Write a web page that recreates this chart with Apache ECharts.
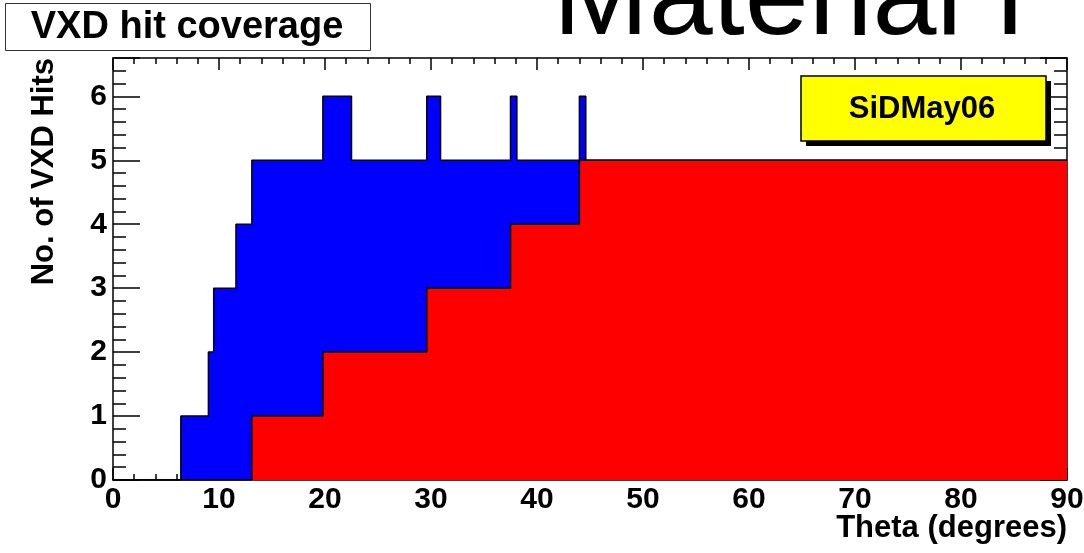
<!DOCTYPE html>
<html>
<head>
<meta charset="UTF-8">
<title>VXD hit coverage</title>
<script src="https://cdn.jsdelivr.net/npm/echarts@6/dist/echarts.min.js"></script>
<style>
  html, body { margin: 0; padding: 0; background: #fff; }
  #main { width: 1084px; height: 553px; }
</style>
</head>
<body>
<div id="main"></div>
<script type="text/javascript">
// bin edges (theta, degrees) and hit counts
var blueEdges = [0, 6.4, 9.0, 9.5, 11.6, 13.1, 19.8, 22.5, 29.6, 30.9, 37.5, 38.1, 44.0, 44.6, 90];
var blueHits  = [0, 1,   2,   3,   4,    5,    6,    5,    6,    5,    6,    5,    6,    5,    5];
var redEdges  = [0, 13.1, 19.8, 29.6, 37.5, 44.0, 90];
var redHits   = [0, 1,    2,    3,    4,    5,    5];
var xTicks = [0, 10, 20, 30, 40, 50, 60, 70, 80, 90];
var yTicks = [0, 1, 2, 3, 4, 5, 6];

var FONT = '"Liberation Sans", Arial, sans-serif';
var myChart = echarts.init(document.getElementById('main'));

function pairs(xs, ys) {
    var out = [];
    for (var i = 0; i < xs.length; i++) out.push([xs[i], ys[i]]);
    return out;
}

var lineBlack = { color: '#000', width: 1.5 };

function xAx(pos, labels) {
    return {
        type: 'value', position: pos, min: xTicks[0], max: xTicks[xTicks.length - 1],
        interval: xTicks[1] - xTicks[0],
        axisLine: { show: true, onZero: false, lineStyle: lineBlack },
        axisTick: { show: true, inside: true, length: 12, lineStyle: lineBlack },
        minorTick: { show: true, splitNumber: 5, length: 6, lineStyle: lineBlack },
        splitLine: { show: false },
        axisLabel: {
            show: labels, margin: 5, color: '#000', fontFamily: FONT,
            fontWeight: 'bold', fontSize: 30
        }
    };
}

function yAx(pos, step, len, labels, line) {
    return {
        type: 'value', position: pos, min: 0, max: 6.6, interval: step,
        axisLine: { show: line, onZero: false, lineStyle: lineBlack },
        axisTick: { show: true, inside: true, length: len, lineStyle: lineBlack },
        splitLine: { show: false },
        axisLabel: {
            show: labels, margin: 6, color: '#000', fontFamily: FONT,
            fontWeight: 'bold', fontSize: 30,
            formatter: function (v) { return yTicks.indexOf(v) >= 0 ? String(v) : ''; }
        }
    };
}

var option = {
    animation: false,
    backgroundColor: '#fff',
    grid: { left: 113, right: 17, top: 58, bottom: 73, outerBoundsMode: 'none' },
    xAxis: [xAx('bottom', true), xAx('top', false)],
    yAxis: [
        yAx('left', 1, 27, true, true),
        yAx('left', 0.2, 13, false, false),
        yAx('right', 1, 27, false, true),
        yAx('right', 0.2, 13, false, false)
    ],
    series: [{
        type: 'line', step: 'end', symbol: 'none', z: 2,
        data: pairs(blueEdges, blueHits),
        lineStyle: lineBlack,
        areaStyle: { color: '#0000ff', opacity: 1 }
    }, {
        type: 'line', step: 'end', symbol: 'none', z: 3,
        data: pairs(redEdges, redHits),
        lineStyle: lineBlack,
        areaStyle: { color: '#ff0000', opacity: 1 }
    }],
    graphic: [
        // big slide text cut by the top edge
        { type: 'text', z: 1, left: 553, top: -55,
          style: { text: 'Material I', font: '115px ' + FONT, fill: '#000' } },
        // title box
        { type: 'rect', z: 10, shape: { x: 5.5, y: 3.5, width: 365, height: 47 },
          style: { fill: '#fff', stroke: '#333', lineWidth: 1 } },
        { type: 'text', z: 11, x: 187, y: 28,
          style: { text: 'VXD hit coverage', font: 'bold 38px ' + FONT, fill: '#000',
                   align: 'center', verticalAlign: 'middle' } },
        // SiDMay06 pave with shadow
        { type: 'rect', z: 10, shape: { x: 806, y: 81, width: 245, height: 65 },
          style: { fill: '#000' } },
        { type: 'rect', z: 11, shape: { x: 801, y: 76, width: 245, height: 65 },
          style: { fill: '#ffff00', stroke: '#000', lineWidth: 1.5 } },
        { type: 'text', z: 12, x: 922, y: 109,
          style: { text: 'SiDMay06', font: 'bold 31px ' + FONT, fill: '#000',
                   align: 'center', verticalAlign: 'middle' } },
        // axis titles
        { type: 'text', z: 11, x: 1067, y: 528,
          style: { text: 'Theta (degrees)', font: 'bold 31px ' + FONT, fill: '#000',
                   align: 'right', verticalAlign: 'middle' } },
        { type: 'text', z: 11, x: 44, y: 58, rotation: Math.PI / 2,
          style: { text: 'No. of VXD Hits', font: 'bold 31px ' + FONT, fill: '#000',
                   align: 'right', verticalAlign: 'middle' } }
    ]
};

myChart.setOption(option);
</script>
</body>
</html>
